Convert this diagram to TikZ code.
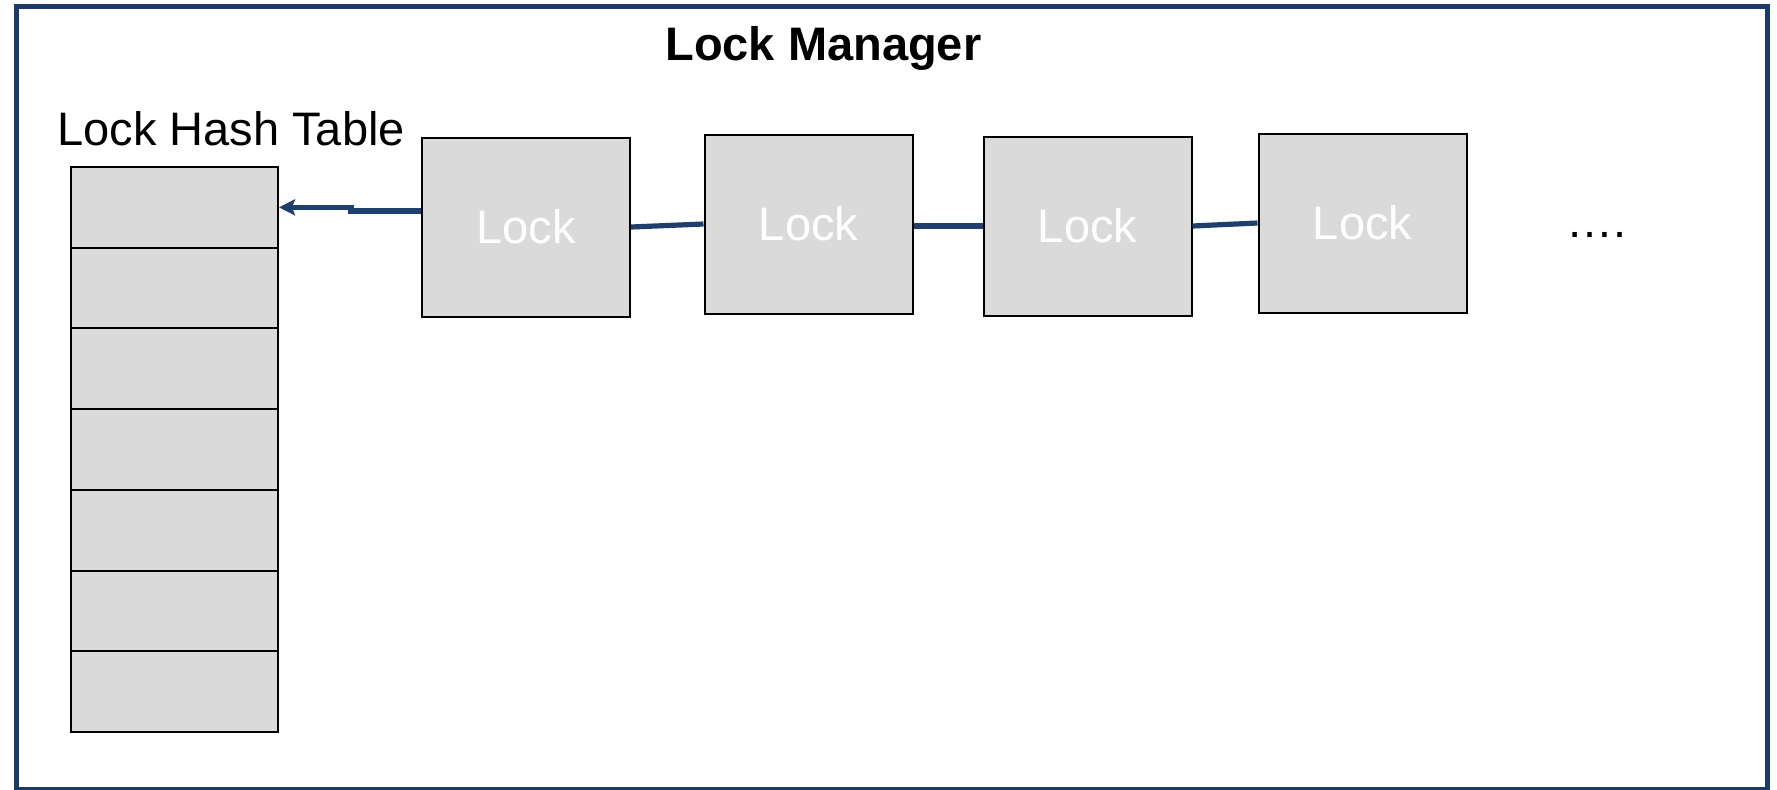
\documentclass[tikz,border=0pt]{standalone}
\usepackage{fontspec}
\setmainfont{Liberation Sans}
\usetikzlibrary{arrows.meta}
\definecolor{frameblue}{HTML}{1C3A68}
\definecolor{linkblue}{HTML}{1F3F6E}
\definecolor{boxgray}{HTML}{DADADA}
\tikzset{
  lockbox/.style={draw=black, line width=1pt, fill=boxgray, minimum width=104pt, minimum height=89.5pt, inner sep=0pt, text=white, font=\fontsize{23.5}{28}\selectfont},
  hashrow/.style={draw=black, line width=1pt, fill=boxgray, minimum width=103.5pt, minimum height=40.35pt, inner sep=0pt},
  link/.style={draw=linkblue, line width=2.6pt},
  arr/.style={link, -{Stealth[length=8pt,width=8pt,inset=1.5pt]}},
  label/.style={inner sep=0pt, anchor=base west}
}
\begin{document}
\begin{tikzpicture}[x=0.5pt,y=-0.5pt]
\useasboundingbox (0,0) rectangle (1777,789);
\fill[white] (0,0) rectangle (1777,789);
\draw[frameblue, line width=2.5pt] (16.5,6.5) rectangle (1767.5,789);
\node[label, font=\fontsize{23.5}{28}\selectfont\bfseries] (title) at (665,60) {Lock Manager};
\node[label, font=\fontsize{23.5}{28}\selectfont] (htitle) at (57,145) {Lock Hash Table};
\foreach \i in {1,...,7}{
  \node[hashrow] (r\i) at (174.5,{167+80.71*(\i-0.5)}) {};
}
\node[lockbox] (b1) at (526,227) {Lock};
\node[lockbox] (b2) at (808.5,224) {Lock};
\node[lockbox] (b3) at (1087.5,226) {Lock};
\node[lockbox] (b4) at (1362.5,223) {Lock};
\node[label, font=\fontsize{23.5}{28}\selectfont] (dots) at (1566,237) {….};
\draw[arr] ([yshift=8pt]b1.west) -- ++(-70,0) |- (r1.east);
\draw[link] (b1.east) -- (b2.west);
\draw[link] (b3.west -| b2.east) -- (b3.west);
\draw[link] (b3.east) -- (b4.west);
\end{tikzpicture}
\end{document}
